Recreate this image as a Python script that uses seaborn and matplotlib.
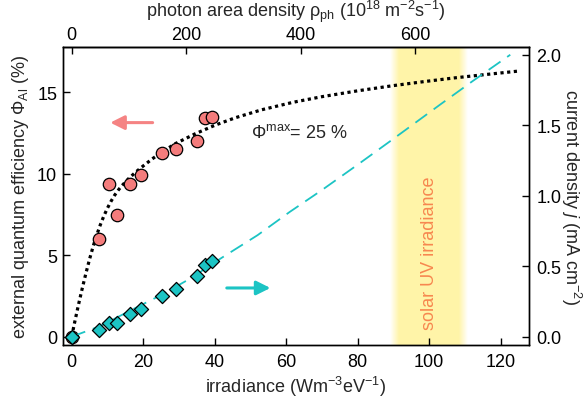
import numpy as np
import matplotlib
matplotlib.use("Agg")
import matplotlib.pyplot as plt
import seaborn as sns

sns.set_theme(style="ticks")
plt.rcParams["font.family"] = ["Liberation Sans", "DejaVu Sans"]
plt.rcParams["mathtext.fontset"] = "custom"
plt.rcParams["mathtext.rm"] = "Liberation Sans"
plt.rcParams["mathtext.it"] = "Liberation Sans:italic"
plt.rcParams["mathtext.bf"] = "Liberation Sans:bold"
plt.rcParams["axes.linewidth"] = 1.0
plt.rcParams["xtick.direction"] = "in"
plt.rcParams["ytick.direction"] = "in"

# measured quantum efficiency (left axis, %)
irr_eqe = [0, 7.7, 10.4, 12.7, 16.4, 19.3, 25.2, 29.1, 35.0, 37.2, 39.2]
eqe = [0, 6.0, 9.35, 7.46, 9.38, 9.93, 11.28, 11.5, 12.0, 13.4, 13.5]

# measured current density (right axis, mA cm^-2)
irr_cur = [0, 7.7, 10.4, 12.7, 16.4, 19.3, 25.2, 29.1, 35.0, 37.2, 39.2]
cur = [0, 0.05, 0.10, 0.095, 0.16, 0.197, 0.29, 0.34, 0.43, 0.505, 0.536]

# fitted curve for the efficiency (dotted)
fit_irr = [0, 1, 2, 3, 4, 5, 6, 7, 8, 9, 10, 11, 12, 13, 14, 16, 18, 20, 22.5, 25.3,
           29.0, 34.6, 40.2, 45.8, 53.2, 62.0, 70.0, 80.0, 90.0, 98.4, 107.0, 115.0, 125.4]
fit_eqe = [0, 1.05, 2.05, 3.0, 3.9, 4.75, 5.53, 6.23, 6.85, 7.4, 7.88, 8.3, 8.67, 8.98,
           9.25, 9.71, 10.11, 10.47, 10.9, 11.33, 11.84, 12.45, 12.98, 13.43, 13.92, 14.38,
           14.72, 15.08, 15.4, 15.64, 15.87, 16.06, 16.3]

# fitted curve for the current density (dashed)
line_irr = [0, 8, 16, 25, 33, 42, 52, 61, 70, 80, 89, 103, 112, 122.7]
line_cur = [0, 0.075, 0.18, 0.295, 0.41, 0.56, 0.72, 0.885, 1.04, 1.22, 1.385, 1.645, 1.81, 2.0]

# solar UV irradiance band
band = (91.5, 108.3)

photon_factor = 6.24  # 10^18 m^-2 s^-1 per irradiance unit

red = "#f47c7c"
cyan = "#1cc4c4"

fig = plt.figure(figsize=(5.84, 4.02), dpi=100)
ax = fig.add_axes([0.1074, 0.140, 0.7988, 0.7399])

# soft yellow band
xs = np.linspace(band[0] - 2.5, band[1] + 2.5, 200)
alpha = np.clip(np.minimum(xs - (band[0] - 2.5), (band[1] + 2.5) - xs) / 2.5, 0, 1)
img = np.zeros((1, len(xs), 4))
img[..., 0] = 1.0
img[..., 1] = 0.96
img[..., 2] = 0.66
img[..., 3] = alpha
ax.imshow(img, extent=[xs[0], xs[-1], -1, 19], aspect="auto", zorder=0, interpolation="bilinear")

sns.lineplot(x=fit_irr, y=fit_eqe, ax=ax, color="black", lw=2.3,
             linestyle=(0, (1, 1.1)), sort=False, estimator=None, zorder=2)
sns.scatterplot(x=irr_eqe, y=eqe, ax=ax, color=red, s=80, edgecolor="black",
                linewidth=0.9, zorder=3)

ax.set_xlim(-2.5, 128)
ax.set_ylim(-0.49, 17.75)
ax.set_xticks([0, 20, 40, 60, 80, 100, 120])
ax.set_yticks([0, 5, 10, 15])
ax.tick_params(direction="in", length=5, width=1, labelsize=13, colors="black")
ax.tick_params(axis="x", pad=6)
ax.tick_params(axis="y", pad=4)
ax.set_xlabel("irradiance (Wm$^{-3}$eV$^{-1}$)", fontsize=13, labelpad=3)
ax.set_ylabel(r"external quantum efficiency $\Phi_{\mathrm{Al}}$ (%)", fontsize=13, labelpad=4)

ax.annotate("", xy=(10.8, 13.13), xytext=(22.65, 13.13),
            arrowprops=dict(arrowstyle="-|>,head_length=0.6,head_width=0.3", color="#f58383",
                            lw=2.2, mutation_scale=14, shrinkA=0, shrinkB=0))
ax.annotate("", xy=(55.6, 2.99), xytext=(43.4, 2.99),
            arrowprops=dict(arrowstyle="-|>,head_length=0.6,head_width=0.3", color=cyan,
                            lw=2.2, mutation_scale=14, shrinkA=0, shrinkB=0))

ax.text(50.3, 12.27, r"$\mathrm{\Phi}^{\mathrm{max}}$= 25 %", fontsize=13, ha="left", va="baseline")
ax.text(100, 5.2, "solar UV irradiance", rotation=90, fontsize=13, color="#f7874f",
        ha="center", va="center")

ax2 = ax.twinx()
sns.lineplot(x=line_irr, y=line_cur, ax=ax2, color=cyan, lw=1.3,
             linestyle=(0, (8, 4.5)), sort=False, estimator=None, zorder=2)
sns.scatterplot(x=irr_cur, y=cur, ax=ax2, color=cyan, marker="D", s=52,
                edgecolor="black", linewidth=0.9, zorder=3)
ax2.set_ylim(-0.057, 2.053)
ax2.set_yticks([0, 0.5, 1.0, 1.5, 2.0])
ax2.set_yticklabels(["0.0", "0.5", "1.0", "1.5", "2.0"])
ax2.tick_params(direction="in", length=5, width=1, labelsize=13, pad=5, colors="black")
ax2.set_ylabel("current density $j$ (mA cm$^{-2}$)", fontsize=13, rotation=270, labelpad=16)

secax = ax.secondary_xaxis("top", functions=(lambda x: x * photon_factor,
                                             lambda x: x / photon_factor))
secax.set_xticks([0, 200, 400, 600])
secax.tick_params(direction="in", length=5, width=1, labelsize=13, pad=3, colors="black")
secax.set_xlabel(r"photon area density $\mathrm{ρ}_{\mathrm{ph}}$ (10$^{18}$ m$^{-2}$s$^{-1}$)",
                 fontsize=13, labelpad=7)

for a in (ax, ax2):
    for s in a.spines.values():
        s.set_color("black")
        s.set_linewidth(1.0)

fig.savefig("out.png", dpi=100)
